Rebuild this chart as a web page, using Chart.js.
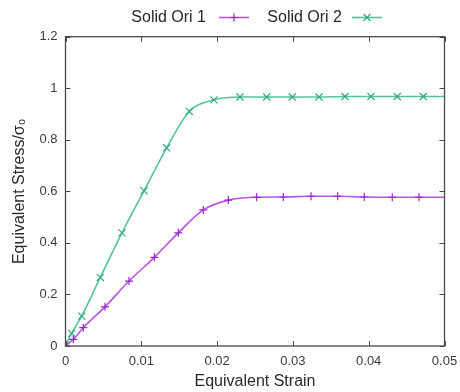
<!DOCTYPE html>
<html>
<head>
<meta charset="utf-8">
<script src="https://cdn.jsdelivr.net/npm/chart.js@4"></script>
<style>
  html, body { margin:0; padding:0; background:#fff; }
  #wrap { width:460px; height:392px; }
</style>
</head>
<body>
<div id="wrap"><canvas id="c" width="460" height="392"></canvas></div>
<script>
Chart.defaults.font.family = "'Liberation Sans', Arial, sans-serif";
Chart.defaults.color = '#3a3a3a';

const SERIES_NAMES = ['Solid Ori 1', 'Solid Ori 2'];
const X_TICKS = [0, 0.01, 0.02, 0.03, 0.04, 0.05];
const Y_TICKS = [0, 0.2, 0.4, 0.6, 0.8, 1, 1.2];

// Solid Ori 1 (purple, +)
const ori1X = [0, 0.00103, 0.00235, 0.00521, 0.00838, 0.01172, 0.01488, 0.01818, 0.02148, 0.02522, 0.02873, 0.03239, 0.03591, 0.03942, 0.04311, 0.04664, 0.05];
const ori1Y = [0, 0.026, 0.071, 0.152, 0.252, 0.344, 0.439, 0.528, 0.566, 0.577, 0.578, 0.581, 0.581, 0.578, 0.577, 0.577, 0.577];

// Solid Ori 2 (green, x)
const ori2X = [0, 0.00082, 0.00214, 0.00459, 0.00745, 0.01036, 0.01335, 0.01633, 0.01959, 0.02302, 0.02654, 0.02992, 0.03344, 0.03687, 0.04030, 0.04377, 0.04720, 0.05];
const ori2Y = [0, 0.049, 0.116, 0.266, 0.439, 0.602, 0.769, 0.910, 0.955, 0.966, 0.966, 0.966, 0.966, 0.968, 0.968, 0.968, 0.968, 0.968];

const LINE1 = '#b655e8', MARK1 = '#9b22d8';
const LINE2 = '#55c29d', MARK2 = '#33a982';

const toPts = (xs, ys) => xs.map((x, i) => ({ x: x, y: ys[i] }));
const radii = (n, r) => Array.from({ length: n }, (_, i) => i === n - 1 ? 0 : r);

// gnuplot-like frame, inward ticks and key
const framePlugin = {
  id: 'frame',
  afterDraw(chart) {
    const { ctx, chartArea: a, scales } = chart;
    ctx.save();
    ctx.strokeStyle = '#4a4a4a';
    ctx.lineWidth = 1.3;
    ctx.strokeRect(a.left, a.top, a.right - a.left, a.bottom - a.top);
    ctx.lineWidth = 1;
    X_TICKS.forEach(v => {
      const px = Math.round(scales.x.getPixelForValue(v)) + 0.5;
      ctx.beginPath();
      ctx.moveTo(px, a.bottom); ctx.lineTo(px, a.bottom - 5);
      ctx.moveTo(px, a.top); ctx.lineTo(px, a.top + 5);
      ctx.stroke();
    });
    Y_TICKS.forEach(v => {
      const py = Math.round(scales.y.getPixelForValue(v)) + 0.5;
      ctx.beginPath();
      ctx.moveTo(a.left, py); ctx.lineTo(a.left + 5, py);
      ctx.moveTo(a.right, py); ctx.lineTo(a.right - 5, py);
      ctx.stroke();
    });

    // key
    const keyY = 17.5;
    const items = [
      { textRight: 206, x0: 219, x1: 249, line: LINE1, mark: MARK1, style: 'cross' },
      { textRight: 342, x0: 352, x1: 382, line: LINE2, mark: MARK2, style: 'crossRot' }
    ];
    ctx.font = "16px 'Liberation Sans', Arial, sans-serif";
    ctx.fillStyle = '#2a2a2a';
    ctx.textAlign = 'right';
    ctx.textBaseline = 'middle';
    items.forEach((it, i) => {
      ctx.fillText(SERIES_NAMES[i], it.textRight, keyY);
      ctx.strokeStyle = it.line;
      ctx.lineWidth = 1.6;
      ctx.beginPath();
      ctx.moveTo(it.x0, keyY); ctx.lineTo(it.x1, keyY);
      ctx.stroke();
      ctx.strokeStyle = it.mark;
      ctx.lineWidth = 1.2;
      Chart.helpers.drawPoint(ctx, { pointStyle: it.style, radius: it.style === 'cross' ? 4 : 5, borderWidth: 1.2 }, (it.x0 + it.x1) / 2, keyY);
    });
    ctx.restore();
  }
};

new Chart(document.getElementById('c'), {
  type: 'line',
  data: {
    datasets: [
      {
        label: SERIES_NAMES[0],
        data: toPts(ori1X, ori1Y),
        borderColor: LINE1,
        borderWidth: 1.6,
        pointStyle: 'cross',
        pointRadius: radii(ori1X.length, 4),
        pointBorderColor: MARK1,
        pointBorderWidth: 1.2,
        cubicInterpolationMode: 'monotone',
        fill: false
      },
      {
        label: SERIES_NAMES[1],
        data: toPts(ori2X, ori2Y),
        borderColor: LINE2,
        borderWidth: 1.6,
        pointStyle: 'crossRot',
        pointRadius: radii(ori2X.length, 5),
        pointBorderColor: MARK2,
        pointBorderWidth: 1.2,
        cubicInterpolationMode: 'monotone',
        fill: false
      }
    ]
  },
  options: {
    responsive: false,
    animation: false,
    events: [],
    layout: { padding: { left: 0, right: 15.5, top: 36.7, bottom: 0 } },
    plugins: { legend: { display: false }, tooltip: { enabled: false } },
    scales: {
      x: {
        type: 'linear',
        min: 0, max: 0.05,
        afterBuildTicks: s => { s.ticks = X_TICKS.map(v => ({ value: v })); },
        afterFit: s => { s.height = 46; s.paddingRight = 0; s.paddingLeft = 0; },
        grid: { display: false, drawTicks: false },
        border: { display: false },
        ticks: { padding: 8, font: { size: 13 }, color: '#3a3a3a', callback: v => String(v) },
        title: { display: true, text: 'Equivalent Strain', font: { size: 16 }, color: '#2a2a2a', padding: { top: 0, bottom: 1 } }
      },
      y: {
        type: 'linear',
        min: 0, max: 1.2,
        afterBuildTicks: s => { s.ticks = Y_TICKS.map(v => ({ value: v })); },
        afterFit: s => { s.width = 65.5; s.paddingTop = 0; s.paddingBottom = 0; },
        grid: { display: false, drawTicks: false },
        border: { display: false },
        ticks: { padding: 8, font: { size: 13 }, color: '#3a3a3a', callback: v => String(v) },
        title: { display: true, text: 'Equivalent Stress/σ₀', font: { size: 16 }, color: '#2a2a2a', padding: { top: 10, bottom: 0 } }
      }
    }
  },
  plugins: [framePlugin]
});
</script>
</body>
</html>
